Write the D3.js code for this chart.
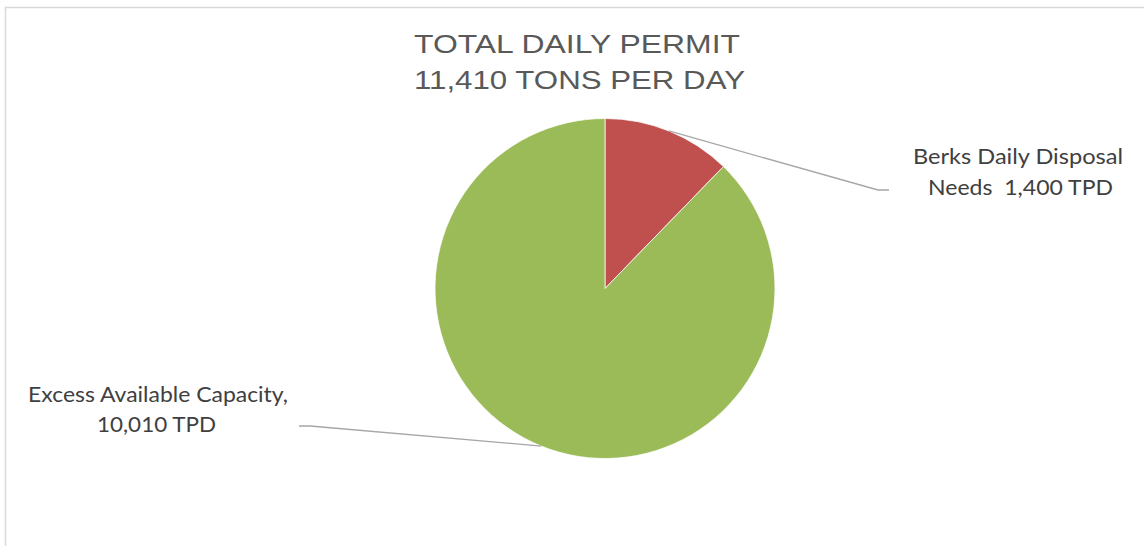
<!DOCTYPE html>
<html>
<head>
<meta charset="utf-8">
<script src="https://cdn.jsdelivr.net/npm/d3@7"></script>
<style>
  body { margin: 0; background: #fff; }
  svg { display: block; }
</style>
</head>
<body>
<div id="chart"></div>
<script>
// chart data
var categories = ["Berks Daily Disposal Needs", "Excess Available Capacity"];
var values = [1400, 10010];
var labelLines = [["Berks Daily Disposal", "Needs  1,400 TPD"], ["Excess Available Capacity,", "10,010 TPD"]];
var titleLines = ["TOTAL DAILY PERMIT", "11,410 TONS PER DAY"];
var colors = ["#c0504d", "#9bbb59"];

var width = 1144, height = 546;
var cx = 605, cy = 288.5, radius = 170;

var svg = d3.select("#chart").append("svg")
    .attr("width", width)
    .attr("height", height);

// chart area border
svg.append("rect")
    .attr("x", 5.5)
    .attr("y", 7.5)
    .attr("width", width + 10)
    .attr("height", height + 10)
    .attr("fill", "#fff")
    .attr("stroke", "#d9d9d9")
    .attr("stroke-width", 1.5);

// title (wide glyphs, stretched to the measured widths)
var titleWidths = [326, 331];
svg.append("text")
    .attr("text-anchor", "middle")
    .attr("fill", "#595959")
    .style("font-family", "'Liberation Sans', Arial, sans-serif")
    .style("font-size", "26px")
  .selectAll("tspan")
    .data(titleLines)
  .enter().append("tspan")
    .attr("x", function(d, i) { return i === 0 ? 577 : 579.5; })
    .attr("y", function(d, i) { return i === 0 ? 53 : 88.5; })
    .attr("textLength", function(d, i) { return titleWidths[i]; })
    .attr("lengthAdjust", "spacingAndGlyphs")
    .text(function(d) { return d; });

var pie = d3.pie().sort(null)(values);
var arc = d3.arc().innerRadius(0).outerRadius(radius);

var g = svg.append("g")
    .attr("transform", "translate(" + cx + "," + cy + ")");

g.selectAll("path.slice")
    .data(pie)
  .enter().append("path")
    .attr("class", "slice")
    .attr("d", arc)
    .attr("fill", function(d, i) { return colors[i]; })
    .attr("stroke", "#fff")
    .attr("stroke-width", 0.75);

// leader lines: from arc midpoint to the label elbow
var elbows = [[273, -98.5, 284], [-295, 137.5, -306]];

function edgePoint(d) {
  var a = (d.startAngle + d.endAngle) / 2;
  return [radius * Math.sin(a), -radius * Math.cos(a)];
}

g.selectAll("polyline.leader")
    .data(pie)
  .enter().append("polyline")
    .attr("class", "leader")
    .attr("fill", "none")
    .attr("stroke", "#a6a6a6")
    .attr("stroke-width", 1.3)
    .attr("points", function(d, i) {
      var p = edgePoint(d), e = elbows[i];
      return [p, [e[0], e[1]], [e[2], e[1]]].map(function(q) { return q.join(","); }).join(" ");
    });

// data labels
var labelX = [[1018, 1020.5], [158, 156.5]];
var labelY = [[164, 195], [402, 432]];
var labelW = [[210, 185], [260, 119]];

svg.selectAll("text.label")
    .data(labelLines)
  .enter().append("text")
    .attr("class", "label")
    .attr("text-anchor", "middle")
    .attr("fill", "#404040")
    .style("font-family", "Lato, 'Open Sans', sans-serif")
    .style("font-size", "22px")
    .each(function(lines, i) {
      var t = d3.select(this);
      lines.forEach(function(line, j) {
        t.append("tspan")
          .attr("x", labelX[i][j])
          .attr("y", labelY[i][j])
          .attr("textLength", labelW[i][j])
          .attr("lengthAdjust", "spacingAndGlyphs")
          .style("white-space", "pre")
          .text(line);
      });
    });
</script>
</body>
</html>
